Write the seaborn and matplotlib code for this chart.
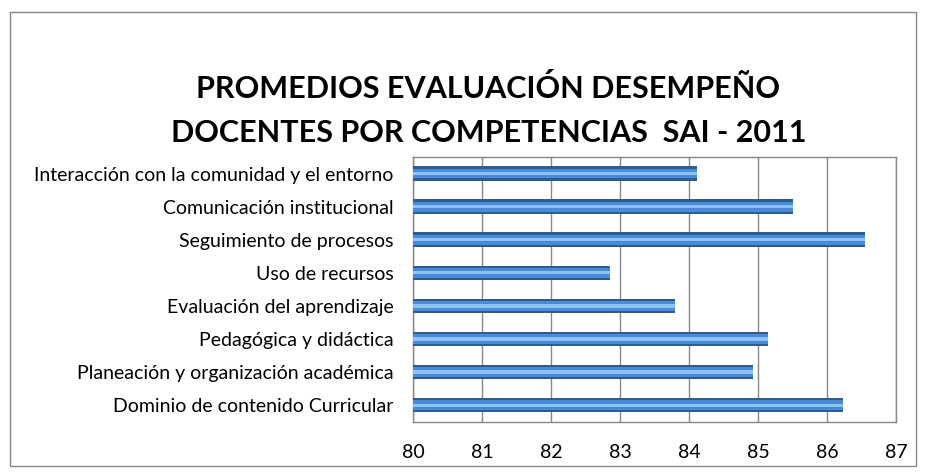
import pandas as pd
import seaborn as sns
import matplotlib.pyplot as plt
from matplotlib.patches import Rectangle

competencias = [
    'Interacción con la comunidad y el entorno',
    'Comunicación institucional',
    'Seguimiento de procesos',
    'Uso de recursos',
    'Evaluación del aprendizaje',
    'Pedagógica y didáctica',
    'Planeación y organización académica',
    'Dominio de contenido Curricular',
]
promedios = [84.12, 85.50, 86.55, 82.85, 83.80, 85.15, 84.93, 86.23]
ticks_x = [80, 81, 82, 83, 84, 85, 86, 87]

data = pd.DataFrame({'competencia': competencias, 'promedio': promedios})

sns.set_style('white')
plt.rcParams['font.family'] = ['Lato', 'DejaVu Sans']

fig = plt.figure(figsize=(9.25, 4.74), dpi=100)
ax = fig.add_axes([0.4465, 0.1103, 0.5222, 0.5585])

# sombra, barra y brillo
sns.barplot(data=data, x='promedio', y='competencia', orient='h', width=0.44,
            color='#2E5B92', saturation=1, linewidth=0, ax=ax, zorder=3)
sns.barplot(data=data, x='promedio', y='competencia', orient='h', width=0.30,
            color='#4B8AD6', saturation=1, linewidth=0, ax=ax, zorder=4)
sns.barplot(data=data, x='promedio', y='competencia', orient='h', width=0.10,
            color='#8CC3F5', saturation=1, linewidth=0, ax=ax, zorder=5)

ax.set_xlim(80, 87)
ax.set_xticks(ticks_x)
ax.set_xlabel('')
ax.set_ylabel('')
ax.xaxis.grid(True, color='#878787', linewidth=1, zorder=0)
ax.set_axisbelow(True)
for s in ax.spines.values():
    s.set_visible(True)
    s.set_color('#878787')
    s.set_linewidth(1)
ax.tick_params(axis='x', labelsize=14, pad=16, length=0, labelcolor='black')
ax.tick_params(axis='y', labelsize=14, pad=14, length=0, labelcolor='black')

fig.text(0.528, 0.814, 'PROMEDIOS EVALUACIÓN DESEMPEÑO', ha='center', va='center',
         fontsize=22, fontweight='bold', color='black')
fig.text(0.528, 0.719, 'DOCENTES POR COMPETENCIAS  SAI - 2011', ha='center', va='center',
         fontsize=22, fontweight='bold', color='black')

fig.patches.append(Rectangle((10 / 925, 8 / 474), 906 / 925, 454 / 474,
                             transform=fig.transFigure, fill=False,
                             edgecolor='#878787', linewidth=1))

fig.savefig('out.png', dpi=100)
